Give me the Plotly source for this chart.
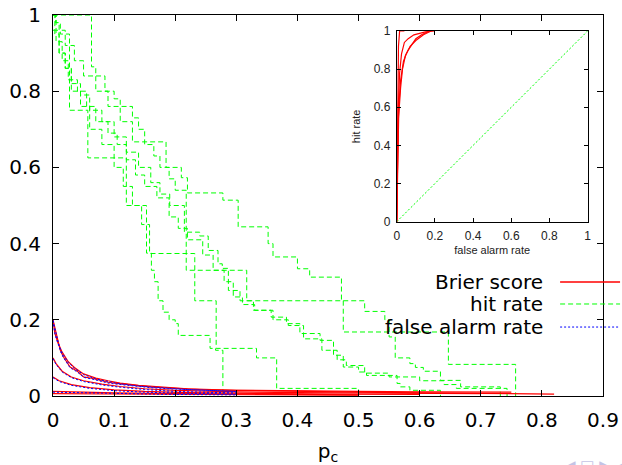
import plotly.graph_objects as go

# ---------------- data ----------------
# hit rate curves (step functions), x = p_c
hitA_x = [0, 0.004, 0.01, 0.02, 0.027, 0.057, 0.12, 0.153, 0.161, 0.166, 0.172, 0.18, 0.19, 0.2, 0.205, 0.257, 0.266, 0.278]
hitA_y = [1, 0.98, 0.96, 0.95, 0.75, 0.625, 0.5, 0.375, 0.33, 0.3, 0.25, 0.22, 0.2, 0.19, 0.159, 0.125, 0.12, 0]
hitB_x = [0, 0.003, 0.01, 0.02, 0.03, 0.045, 0.06, 0.08, 0.1, 0.115, 0.13, 0.145, 0.158, 0.232, 0.267, 0.333, 0.366, 0.5]
hitB_y = [1, 0.95, 0.9, 0.86, 0.8, 0.76, 0.7, 0.66, 0.6, 0.55, 0.5, 0.45, 0.374, 0.25, 0.125, 0.1, 0.02, 0]
hitF_x = [0, 0.063, 0.07, 0.085, 0.1, 0.11, 0.13, 0.14, 0.15, 0.165, 0.175, 0.19, 0.2, 0.218, 0.317, 0.475, 0.647, 0.757]
hitF_y = [1, 0.864, 0.84, 0.8, 0.78, 0.76, 0.73, 0.7, 0.66, 0.63, 0.6, 0.57, 0.54, 0.33, 0.25, 0.168, 0.083, 0]
hitD_x = [0, 0.005, 0.012, 0.02, 0.035, 0.05, 0.07, 0.09, 0.11, 0.13, 0.185, 0.21, 0.22, 0.278, 0.303, 0.352, 0.36, 0.4,
          0.42, 0.472, 0.51, 0.543, 0.55, 0.56, 0.584, 0.593, 0.606, 0.634, 0.667, 0.732]
hitD_y = [1, 0.98, 0.95, 0.92, 0.88, 0.84, 0.8, 0.76, 0.72, 0.667, 0.6, 0.573, 0.533, 0.514, 0.444, 0.4, 0.365, 0.334,
          0.312, 0.25, 0.222, 0.2, 0.155, 0.1, 0.085, 0.075, 0.065, 0.041, 0.024, 0]
hitE_x = [0, 0.01, 0.02, 0.03, 0.045, 0.06, 0.08, 0.1, 0.12, 0.14, 0.16, 0.175, 0.191, 0.215, 0.24, 0.254, 0.27, 0.277,
          0.287, 0.306, 0.328, 0.357, 0.382, 0.404, 0.437, 0.459, 0.475, 0.5, 0.513, 0.563, 0.568, 0.584, 0.634]
hitE_y = [0.96, 0.9, 0.86, 0.82, 0.79, 0.75, 0.72, 0.68, 0.64, 0.6, 0.56, 0.53, 0.5, 0.43, 0.42, 0.382, 0.347, 0.335,
          0.277, 0.25, 0.225, 0.207, 0.19, 0.164, 0.146, 0.107, 0.076, 0.063, 0.054, 0.033, 0.024, 0.015, 0]
hitG_x = [0, 0.005, 0.015, 0.025, 0.04, 0.055, 0.07, 0.09, 0.105, 0.12, 0.135, 0.15, 0.17, 0.19, 0.205, 0.22, 0.245,
          0.262, 0.28, 0.295, 0.31, 0.33, 0.36, 0.385, 0.41, 0.44, 0.465, 0.48, 0.51, 0.55, 0.6, 0.64, 0.66, 0.743]
hitG_y = [1, 0.93, 0.88, 0.83, 0.8, 0.76, 0.72, 0.69, 0.66, 0.62, 0.58, 0.55, 0.52, 0.47, 0.44, 0.41, 0.37,
          0.33, 0.3, 0.26, 0.24, 0.225, 0.2, 0.185, 0.15, 0.12, 0.095, 0.08, 0.06, 0.05, 0.04, 0.03, 0.02, 0]

# Brier score curves
bs1_x = [0, 0.003, 0.006, 0.012, 0.017, 0.028, 0.04, 0.05, 0.065, 0.077, 0.09, 0.104, 0.13, 0.159, 0.2, 0.24, 0.3, 0.4, 0.5, 0.6, 0.75]
bs1_y = [0.2, 0.18, 0.162, 0.12, 0.103, 0.076, 0.065, 0.05, 0.046, 0.041, 0.036, 0.033, 0.028, 0.024, 0.02, 0.017, 0.015, 0.013, 0.012, 0.011, 0.01]
bs2_x = [0, 0.003, 0.008, 0.015, 0.025, 0.035, 0.05, 0.07, 0.09, 0.11, 0.14, 0.18, 0.22, 0.3, 0.4, 0.5, 0.6, 0.7, 0.82]
bs2_y = [0.2, 0.165, 0.14, 0.115, 0.09, 0.075, 0.058, 0.047, 0.04, 0.034, 0.028, 0.023, 0.019, 0.015, 0.012, 0.01, 0.008, 0.006, 0.005]
bs3_x = [0, 0.005, 0.015, 0.03, 0.05, 0.08, 0.11, 0.15, 0.2, 0.3, 0.4, 0.55, 0.7]
bs3_y = [0.1, 0.085, 0.065, 0.05, 0.04, 0.031, 0.025, 0.019, 0.015, 0.011, 0.009, 0.007, 0.006]
bs4_x = [0, 0.01, 0.03, 0.06, 0.1, 0.15, 0.22, 0.3, 0.45, 0.6]
bs4_y = [0.05, 0.04, 0.03, 0.022, 0.016, 0.012, 0.009, 0.007, 0.005, 0.004]
bs5_x = [0, 0.05, 0.1, 0.2, 0.3, 0.5]
bs5_y = [0.012, 0.01, 0.008, 0.006, 0.005, 0.003]
bs6_x = [0, 0.1, 0.2, 0.35, 0.5]
bs6_y = [0.006, 0.005, 0.004, 0.003, 0.002]

# false alarm rate curves
fa1_x = [0, 0.003, 0.006, 0.012, 0.017, 0.028, 0.04, 0.05, 0.065, 0.077, 0.09, 0.104, 0.13, 0.159, 0.2, 0.24, 0.3]
fa1_y = [0.198, 0.178, 0.16, 0.118, 0.101, 0.074, 0.063, 0.049, 0.044, 0.039, 0.034, 0.031, 0.026, 0.022, 0.018, 0.015, 0.012]
fa2_x = [0, 0.003, 0.008, 0.015, 0.025, 0.035, 0.05, 0.07, 0.09, 0.11, 0.14, 0.18, 0.22, 0.3]
fa2_y = [0.198, 0.163, 0.138, 0.113, 0.088, 0.073, 0.056, 0.045, 0.038, 0.032, 0.026, 0.021, 0.017, 0.012]
fa3_x = [0, 0.005, 0.015, 0.03, 0.05, 0.08, 0.11, 0.15, 0.2, 0.3]
fa3_y = [0.098, 0.083, 0.063, 0.048, 0.038, 0.029, 0.023, 0.017, 0.012, 0.008]
fa4_x = [0, 0.01, 0.03, 0.06, 0.1, 0.15, 0.22, 0.3]
fa4_y = [0.048, 0.038, 0.028, 0.02, 0.014, 0.01, 0.007, 0.005]
fa5_x = [0, 0.05, 0.1, 0.2, 0.3]
fa5_y = [0.01, 0.008, 0.006, 0.004, 0.003]

# ROC curves (inset)
roc1_x = [0, 0.002, 0.004, 0.006, 0.009, 0.015, 0.04]
roc1_y = [0, 0.35, 0.6, 0.8, 0.92, 1, 1]
roc2_x = [0, 0.003, 0.008, 0.015, 0.025, 0.04, 0.06, 0.09, 0.15, 0.2]
roc2_y = [0, 0.4, 0.6, 0.78, 0.88, 0.94, 0.96, 0.98, 0.995, 1]
roc3_x = [0, 0.004, 0.01, 0.02, 0.03, 0.045, 0.06, 0.08, 0.1, 0.13, 0.17]
roc3_y = [0, 0.3, 0.55, 0.7, 0.8, 0.87, 0.9, 0.93, 0.96, 0.98, 1]
roc4_x = [0, 0.003, 0.007, 0.012, 0.02, 0.035, 0.05, 0.07, 0.1, 0.14, 0.18]
roc4_y = [0, 0.25, 0.5, 0.62, 0.74, 0.84, 0.88, 0.92, 0.95, 0.98, 1]
diag_x = [0, 1]
diag_y = [0, 1]

main_ticks_x = [0, 0.1, 0.2, 0.3, 0.4, 0.5, 0.6, 0.7, 0.8, 0.9]
main_ticks_y = [0, 0.2, 0.4, 0.6, 0.8, 1]
inset_ticks = [0, 0.2, 0.4, 0.6, 0.8, 1]
legend_labels = ["Brier score", "hit rate", "false alarm rate"]

# ---------------- figure ----------------
RED = "#ff0000"
GREEN = "#00ff00"
BLUE = "#0000ff"

fig = go.Figure()

for xs, ys in [(hitA_x, hitA_y), (hitB_x, hitB_y), (hitF_x, hitF_y), (hitD_x, hitD_y),
               (hitE_x, hitE_y), (hitG_x, hitG_y)]:
    fig.add_trace(go.Scatter(x=xs, y=ys, mode="lines", line_shape="hv",
                             line=dict(color=GREEN, width=1, dash="5px,3px"),
                             showlegend=False, hoverinfo="skip"))

for xs, ys in [(bs1_x, bs1_y), (bs2_x, bs2_y), (bs3_x, bs3_y), (bs4_x, bs4_y),
               (bs5_x, bs5_y), (bs6_x, bs6_y)]:
    fig.add_trace(go.Scatter(x=xs, y=ys, mode="lines",
                             line=dict(color=RED, width=1.2),
                             showlegend=False, hoverinfo="skip"))

for xs, ys in [(fa1_x, fa1_y), (fa2_x, fa2_y), (fa3_x, fa3_y), (fa4_x, fa4_y), (fa5_x, fa5_y)]:
    fig.add_trace(go.Scatter(x=xs, y=ys, mode="lines",
                             line=dict(color=BLUE, width=1, dash="2px,2px"),
                             showlegend=False, hoverinfo="skip"))

# inset
for xs, ys in [(roc1_x, roc1_y), (roc2_x, roc2_y), (roc3_x, roc3_y), (roc4_x, roc4_y)]:
    fig.add_trace(go.Scatter(x=xs, y=ys, mode="lines", xaxis="x2", yaxis="y2",
                             line=dict(color=RED, width=1.2),
                             showlegend=False, hoverinfo="skip"))
fig.add_trace(go.Scatter(x=diag_x, y=diag_y, mode="lines", xaxis="x2", yaxis="y2",
                         line=dict(color=GREEN, width=1, dash="2px,2px"),
                         showlegend=False, hoverinfo="skip"))

MAIN_FONT = dict(family="DejaVu Sans", size=20, color="black")
INSET_FONT = dict(family="Liberation Sans, Arial", size=12, color="#222222")
INSET_TITLE_FONT = dict(family="Liberation Sans, Arial", size=11, color="#222222")

axis_common = dict(showgrid=False, zeroline=False, showline=True, linecolor="black",
                   linewidth=1, mirror="allticks", ticks="inside", tickcolor="black",
                   tickwidth=1, automargin=False)

fig.update_layout(
    width=622, height=465,
    margin=dict(l=53, r=19, t=15, b=69, autoexpand=False),
    paper_bgcolor="white", plot_bgcolor="white",
    showlegend=False,
    xaxis=dict(range=[0, 0.9], tickvals=main_ticks_x,
               ticktext=[f"{v:g}" for v in main_ticks_x],
               tickfont=MAIN_FONT, domain=[0, 1], ticklen=6, ticklabelstandoff=6,
               title=dict(text="p<sub>c</sub>", font=MAIN_FONT, standoff=14),
               **axis_common),
    yaxis=dict(range=[0, 1], tickvals=main_ticks_y,
               ticktext=[f"{v:g}" for v in main_ticks_y],
               tickfont=MAIN_FONT, domain=[0, 1], ticklen=6, ticklabelstandoff=7,
               **axis_common),
    xaxis2=dict(range=[0, 1], tickvals=inset_ticks,
                ticktext=[f"{v:g}" for v in inset_ticks],
                tickfont=INSET_FONT, domain=[0.625, 0.972], anchor="y2", ticklen=4,
                ticklabelstandoff=3,
                title=dict(text="false alarm rate", font=INSET_TITLE_FONT, standoff=4),
                **axis_common),
    yaxis2=dict(range=[0, 1], tickvals=inset_ticks,
                ticktext=[f"{v:g}" for v in inset_ticks],
                tickfont=INSET_FONT, domain=[0.4575, 0.958], anchor="x2", ticklen=4,
                ticklabelstandoff=3,
                title=dict(text="hit rate", font=INSET_TITLE_FONT, standoff=10),
                **axis_common),
)

# gnuplot-style key: right-aligned labels with samples to their right
key_y = [0.299, 0.2415, 0.181]
key_styles = [dict(color=RED, width=1.5), dict(color=GREEN, width=1, dash="5px,3px"),
              dict(color=BLUE, width=1, dash="2px,2px")]
for label, ky, st in zip(legend_labels, key_y, key_styles):
    fig.add_annotation(x=0.8945, y=ky, xref="paper", yref="paper", text=label,
                       showarrow=False, xanchor="right", yanchor="middle", font=MAIN_FONT)
    fig.add_shape(type="line", xref="paper", yref="paper", x0=0.922, x1=1.031,
                  y0=ky, y1=ky, line=st)

# beamer navigation symbols (bottom right, partly cut off)
fig.add_annotation(x=0.925, y=-0.155, xref="paper", yref="paper", text="◀ □ ▶ ◀ ❐ ▶",
                   showarrow=False, xanchor="left", yanchor="top",
                   font=dict(family="DejaVu Sans", size=15, color="#c4c4e6"))

fig.write_html("out.html")
